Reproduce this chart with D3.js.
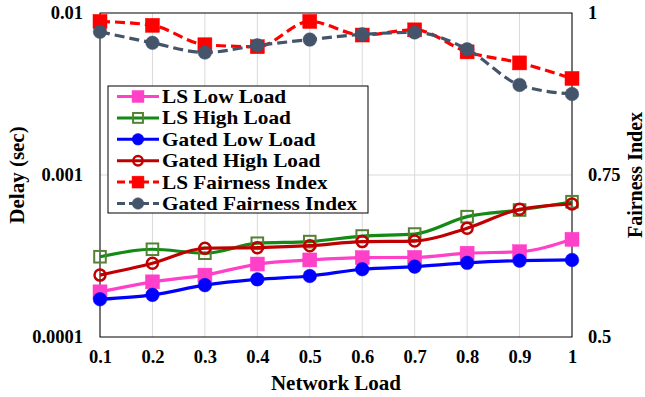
<!DOCTYPE html>
<html>
<head>
<meta charset="utf-8">
<script src="https://cdn.jsdelivr.net/npm/d3@7"></script>
<style>
  body { margin: 0; background: #fff; }
  svg text { font-family: "Liberation Serif", Tinos, "Times New Roman", "DejaVu Serif", serif !important; font-weight: bold; fill: #000; }
</style>
</head>
<body>
<div id="graph"></div>
<script>
// data
var loads = [0.1, 0.2, 0.3, 0.4, 0.5, 0.6, 0.7, 0.8, 0.9, 1];
var lsLow = [1.90e-4, 2.19e-4, 2.41e-4, 2.82e-4, 2.99e-4, 3.09e-4, 3.10e-4, 3.29e-4, 3.36e-4, 4.01e-4];
var lsHigh = [3.13e-4, 3.48e-4, 3.29e-4, 3.79e-4, 3.88e-4, 4.20e-4, 4.32e-4, 5.53e-4, 6.08e-4, 6.84e-4];
var gatedLow = [1.71e-4, 1.82e-4, 2.09e-4, 2.27e-4, 2.38e-4, 2.62e-4, 2.72e-4, 2.87e-4, 2.96e-4, 2.99e-4];
var gatedHigh = [2.41e-4, 2.85e-4, 3.53e-4, 3.56e-4, 3.66e-4, 3.88e-4, 3.91e-4, 4.69e-4, 6.14e-4, 6.62e-4];
var lsFair = [0.987, 0.981, 0.951, 0.948, 0.987, 0.966, 0.974, 0.940, 0.923, 0.899];
var gatedFair = [0.971, 0.954, 0.939, 0.950, 0.959, 0.967, 0.970, 0.944, 0.889, 0.875];
var delayTicks = [0.0001, 0.001, 0.01];
var fairTicks = [0.5, 0.75, 1];

var margin = { top: 13, right: 73, bottom: 60, left: 100 },
    width = 645 - margin.left - margin.right,
    height = 397 - margin.top - margin.bottom;

var svg = d3.select('#graph').append('svg')
    .attr('width', 645).attr('height', 397)
    .append('g')
    .attr('transform', 'translate(' + margin.left + ',' + margin.top + ')');

var x = d3.scaleLinear().domain([0.1, 1]).range([0, width]);
var y = d3.scaleLog().domain([0.0001, 0.01]).range([height, 0]);
var y2 = d3.scaleLinear().domain([0.5, 1]).range([height, 0]);

// gridlines
svg.append('g').selectAll('line').data(loads).enter().append('line')
    .attr('x1', d => x(d)).attr('x2', d => x(d))
    .attr('y1', 0).attr('y2', height)
    .style('stroke', '#d9d9d9').style('stroke-width', 1);
svg.append('line').attr('x1', 0).attr('x2', width)
    .attr('y1', y(0.001)).attr('y2', y(0.001))
    .style('stroke', '#d9d9d9').style('stroke-width', 1);

// frame
svg.append('rect').attr('width', width).attr('height', height)
    .style('fill', 'none').style('stroke', '#000').style('stroke-width', 1);

// axes
var fmtD = d => d === 0.0001 ? '0.0001' : d === 0.001 ? '0.001' : '0.01';
var xAxis = svg.append('g').attr('transform', 'translate(0,' + height + ')')
    .call(d3.axisBottom(x).tickValues(loads).tickSize(0).tickPadding(13).tickFormat(d => String(+d.toFixed(1))));
var yAxis = svg.append('g')
    .call(d3.axisLeft(y).tickValues(delayTicks).tickSize(0).tickPadding(17).tickFormat(fmtD));
var y2Axis = svg.append('g').attr('transform', 'translate(' + width + ',0)')
    .call(d3.axisRight(y2).tickValues(fairTicks).tickSize(0).tickPadding(16).tickFormat(d => String(d)));
[xAxis, yAxis, y2Axis].forEach(function(a) {
    a.attr('font-family', null).attr('font-size', null);
    a.select('.domain').remove();
    a.selectAll('text').style('font-size', '18.5px');
});

// axis titles
svg.append('text').attr('x', width / 2).attr('y', height + 53)
    .attr('text-anchor', 'middle').style('font-size', '21px').text('Network Load');
svg.append('text').attr('transform', 'translate(' + (-83) + ',' + height / 2 + ') rotate(-90)')
    .attr('text-anchor', 'middle').attr('dy', '0.35em').style('font-size', '21px').text('Delay (sec)');
svg.append('text').attr('transform', 'translate(' + (width + 63) + ',' + height / 2 + ') rotate(-90)')
    .attr('text-anchor', 'middle').attr('dy', '0.33em').style('font-size', '20px').text('Fairness Index');

var series = [
    { name: 'LS Low Load', values: lsLow, scale: y, color: '#ff40c8', mark: 'square', fill: '#ff40c8', mstroke: '#ff40c8', dash: null },
    { name: 'LS High Load', values: lsHigh, scale: y, color: '#138a13', mark: 'square', fill: 'none', mstroke: '#548235', dash: null },
    { name: 'Gated Low Load', values: gatedLow, scale: y, color: '#0000ff', mark: 'circle', fill: '#0000ff', mstroke: '#0000ff', dash: null },
    { name: 'Gated High Load', values: gatedHigh, scale: y, color: '#c00000', mark: 'circle', fill: 'none', mstroke: '#c00000', dash: null },
    { name: 'LS Fairness Index', values: lsFair, scale: y2, color: '#ff0000', mark: 'square', fill: '#ff0000', mstroke: '#ff0000', dash: '10,5' },
    { name: 'Gated Fairness Index', values: gatedFair, scale: y2, color: '#44546a', mark: 'circle', fill: '#44546a', mstroke: '#44546a', dash: '10,5' }
];

function drawMarker(g, s, cx, cy, k) {
    var open = s.fill === 'none';
    k = k || 1;
    if (s.mark === 'square') {
        var h = (open ? 5.8 : 7) * k;
        g.append('rect').attr('x', cx - h).attr('y', cy - h).attr('width', 2 * h).attr('height', 2 * h)
            .style('fill', open ? 'none' : s.fill).style('stroke', s.mstroke).style('stroke-width', open ? 2 : 0.5);
    } else {
        g.append('circle').attr('cx', cx).attr('cy', cy).attr('r', (open ? 5.5 : 6.8) * k)
            .style('fill', open ? 'none' : s.fill).style('stroke', s.mstroke).style('stroke-width', open ? 2.5 : 0.5);
    }
}

series.forEach(function(s) {
    var line = d3.line().x((d, i) => x(loads[i])).y(d => s.scale(d)).curve(d3.curveMonotoneX);
    var g = svg.append('g');
    g.append('path').datum(s.values).attr('d', line)
        .style('fill', 'none').style('stroke', s.color).style('stroke-width', 3.2)
        .style('stroke-dasharray', s.dash);
    s.values.forEach(function(v, i) { drawMarker(g, s, x(loads[i]), s.scale(v)); });
});

// legend
var lx = 108 - margin.left, ly = 86 - margin.top;
var legend = svg.append('g').attr('transform', 'translate(' + lx + ',' + ly + ')');
legend.append('rect').attr('width', 260).attr('height', 127)
    .style('fill', '#fff').style('stroke', '#000').style('stroke-width', 1);
series.forEach(function(s, i) {
    var cy = 10.5 + i * 21.4;
    legend.append('line').attr('x1', 9).attr('x2', 51).attr('y1', cy).attr('y2', cy)
        .style('stroke', s.color).style('stroke-width', 3).style('stroke-dasharray', s.dash ? '8,4' : null);
    drawMarker(legend, s, 30, cy, 0.85);
    var t = legend.append('text').attr('x', 54).attr('y', cy).attr('dy', '0.34em')
        .style('font-size', '19px').text(s.name);
    // the original legend text is a little wider than plain Times
    var len = t.node().getComputedTextLength();
    t.attr('textLength', len * 1.12).attr('lengthAdjust', 'spacingAndGlyphs');
});
</script>
</body>
</html>
